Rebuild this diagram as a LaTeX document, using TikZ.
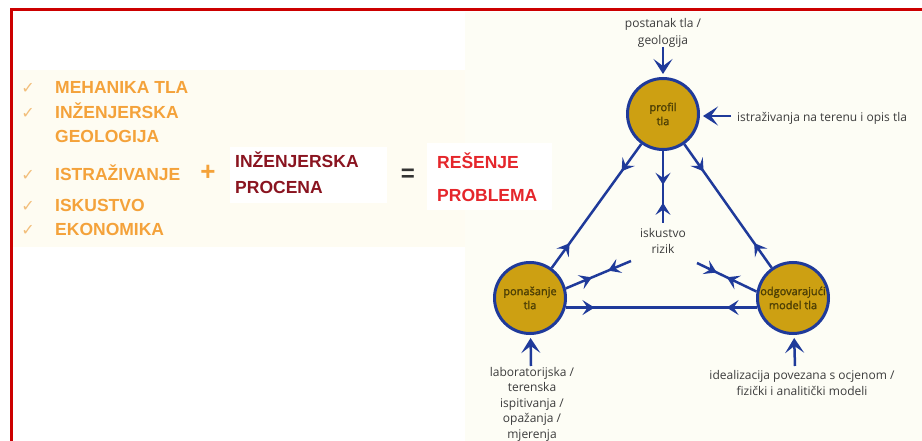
\documentclass[tikz,border=0pt]{standalone}
\usepackage{fontspec}
\setmainfont{Liberation Sans}
\newfontfamily\lblfont{Open Sans}
\newfontfamily\circfont[FakeBold=1.6]{Open Sans}
\newfontfamily\dejavu{DejaVu Sans}
\usetikzlibrary{arrows.meta,decorations.markings}

\definecolor{navy}{HTML}{1F3A9A}
\definecolor{gold}{HTML}{CDA012}
\definecolor{orng}{HTML}{F4A23A}
\definecolor{chk}{HTML}{F2BE7A}
\definecolor{dred}{HTML}{8A1420}
\definecolor{brred}{HTML}{E5262B}
\definecolor{framered}{HTML}{CC0000}
\definecolor{cream}{HTML}{FDFDF5}
\definecolor{creamb}{HTML}{FEFCF2}
\definecolor{lbl}{HTML}{3C3C3C}
\definecolor{olive}{HTML}{4D3F05}

\tikzset{
  midtip/.tip={Stealth[length=12pt,width=15pt,inset=5pt]},
  bigtip/.tip={Stealth[length=15pt,width=19pt,inset=7pt]},
  conn/.style={navy, line width=2.5pt},
  inarrow/.style={conn, -{bigtip}, shorten >=3pt},
  twoway/.style 2 args={postaction=decorate,
    decoration={markings,
      mark=at position #1 with {\arrow{midtip}},
      mark=at position #2 with {\arrowreversed{midtip}}}},
  circ/.style={circle, draw=navy, line width=3pt, fill=gold, minimum size=71pt,
    inner sep=0pt, align=center, text=olive,
    font=\circfont\fontsize{11}{14}\selectfont},
  lbltext/.style={text=lbl, align=center, inner sep=0pt,
    font=\lblfont\fontsize{12}{16.5}\selectfont},
  item/.style={anchor=base west, inner sep=0pt, text=orng,
    font=\bfseries\fontsize{17.5}{20}\selectfont},
  check/.style={anchor=base, inner sep=0pt, text=chk,
    font=\dejavu\fontsize{16}{16}\selectfont},
  bigword/.style={anchor=base west, inner sep=0pt,
    font=\bfseries\fontsize{17.5}{20}\selectfont}
}

\begin{document}
\begin{tikzpicture}[x=1pt,y=-1pt]
\useasboundingbox (0,0) rectangle (922,441);
\fill[white] (0,0) rectangle (922,441);
\fill[cream] (465,12) rectangle (922,441);
\fill[creamb] (12,70) rectangle (465,247);
\fill[white] (230,147) rectangle (387,203);
\fill[white] (427,143) rectangle (552,210);
\draw[framered, line width=3pt] (11,441) -- (11,10) -- (922,10);

% left list
\node[check] (c1) at (28,94) {✓};
\node[check] (c2) at (28,119) {✓};
\node[check] (c3) at (28,181) {✓};
\node[check] (c4) at (28,212) {✓};
\node[check] (c5) at (28,236) {✓};
\node[item] (i1) at (55,94) {MEHANIKA TLA};
\node[item] (i2) at (55,119) {INŽENJERSKA};
\node[item] (i3) at (55,143) {GEOLOGIJA};
\node[item] (i4) at (55,181) {ISTRAŽIVANJE};
\node[item] (i5) at (55,212) {ISKUSTVO};
\node[item] (i6) at (55,236) {EKONOMIKA};
\node[text=orng, font=\bfseries\fontsize{26}{26}\selectfont, inner sep=0pt] (plus) at (208,173) {+};
\node[bigword, text=dred] (p1) at (235,168) {INŽENJERSKA};
\node[bigword, text=dred] (p2) at (235,194) {PROCENA};
\node[text=black!80, font=\bfseries\fontsize{24}{24}\selectfont, inner sep=0pt] (eq) at (408,175) {=};
\node[bigword, text=brred] (r1) at (437,169) {REŠENJE};
\node[bigword, text=brred] (r2) at (437,202) {PROBLEMA};

% diagram
\node[circ] (T) at (663,114) {profil\\tla};
\node[circ] (L) at (530,298) {ponašanje\\tla};
\node[circ] (R) at (793,298) {odgovarajući\\model tla};

\node[lbltext] (tt) at (663,33) {postanak tla /\\geologija};
\node[lbltext, anchor=west] (rt) at (737,118) {istraživanja na terenu i opis tla};
\node[lbltext] (ct) at (663,241) {iskustvo\\rizik};
\node[lbltext, anchor=north, font=\lblfont\fontsize{12}{15.5}\selectfont] (lt) at (532,367) {laboratorijska /\\terenska\\ispitivanja /\\opažanja /\\mjerenja};
\node[lbltext] (bt) at (802,383) {idealizacija povezana s ocjenom /\\fizički i analitički modeli};

\coordinate (a1) at (663,47);
\coordinate (a2) at (731,116);
\coordinate (a3) at (531,366);
\coordinate (a4) at (795,366);
\coordinate (cv) at (663,223);
\coordinate (cl) at (631,261);
\coordinate (cr) at (697,263);

\draw[inarrow] (a1) -- (T);
\draw[inarrow] (a2) -- (T.east |- a2);
\draw[inarrow] (a3) -- (L);
\draw[inarrow] (a4) -- (R);

\draw[conn, twoway={0.22}{0.80}] (T) -- (L);
\draw[conn, twoway={0.22}{0.80}] (T) -- (R);
\draw[conn, twoway={0.47}{0.72}] (T) -- (cv);
\draw[conn, twoway={0.40}{0.65}] (L.15) -- (cl);
\draw[conn, twoway={0.50}{0.67}] (R.170) -- (cr);
\draw[conn, twoway={0.15}{0.84}] (L.345) -- (R.195);
\end{tikzpicture}
\end{document}
